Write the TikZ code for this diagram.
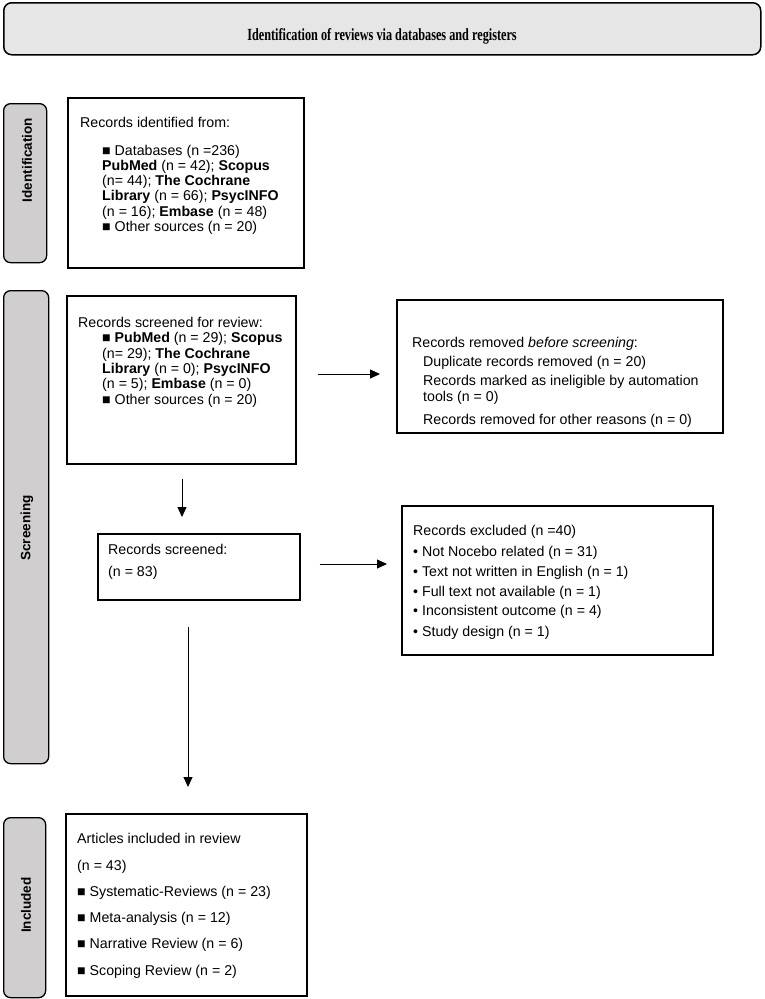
\documentclass[tikz,border=0pt]{standalone}
\usepackage{graphicx}
\usepackage{fontspec}
\setmainfont{Liberation Sans}
\newfontfamily\titlefont{Liberation Serif}
\usetikzlibrary{calc,arrows.meta}
\definecolor{topgray}{HTML}{E7E6E6}
\definecolor{sidegray}{HTML}{D0CECE}
\begin{document}
\begin{tikzpicture}[x=1pt,y=-1pt,
  frame/.style={draw, line width=1.6pt, inner sep=0pt, anchor=north west},
  side/.style={draw, line width=1.3pt, rounded corners=7pt, fill=sidegray, inner sep=0pt, anchor=north west},
  lab/.style={rotate=90, inner sep=0pt, font=\bfseries\fontsize{13.5}{16}\selectfont},
  txt/.style={anchor=base west, inner sep=0pt, align=left, font=\fontsize{14.2}{15.3}\selectfont},
  arr/.style={-{Triangle[length=10pt,width=9pt]}, line width=0.9pt}
]
\useasboundingbox (0,0) rectangle (764,999);

% title bar
\node[frame, rounded corners=8pt, fill=topgray, line width=1.5pt, minimum width=757pt, minimum height=52pt] (top) at (3,2) {};
\node[anchor=base, inner sep=0pt, font=\titlefont\bfseries\fontsize{17}{18}\selectfont] (title) at (382,40)
  {\scalebox{0.72}[1]{Identification of reviews via databases and registers}};

% side bars
\node[side, minimum width=43pt, minimum height=159pt] (sid) at (3,103) {};
\node[lab] (lid) at (27,160) {Identification};
\node[side, minimum width=45pt, minimum height=473pt] (sscr) at (3,290) {};
\node[lab] (lscr) at (27,528) {Screening};
\node[side, minimum width=42pt, minimum height=180pt] (sinc) at (3,817) {};
\node[lab] (linc) at (26,905) {Included};

% frames
\node[frame, minimum width=236pt, minimum height=170pt] (b1) at (67,97) {};
\node[frame, minimum width=229pt, minimum height=168pt] (b2) at (66,295) {};
\node[frame, minimum width=326pt, minimum height=133pt] (b3) at (396,299) {};
\node[frame, minimum width=202pt, minimum height=66pt] (b4) at (97,533) {};
\node[frame, minimum width=311pt, minimum height=149pt] (b5) at (401,505) {};
\node[frame, minimum width=241pt, minimum height=182pt] (b6) at (65,813) {};

% box 1 (multi-line nodes: base = baseline of last line)
\node[txt] (t1a) at (80,127) {Records identified from:};
\node[txt] (t1b) at (102,231.5) {■ Databases (n =236)\\
\textbf{PubMed} (n = 42); \textbf{Scopus}\\
(n= 44); \textbf{The Cochrane}\\
\textbf{Library} (n = 66); \textbf{PsycINFO}\\
(n = 16); \textbf{Embase} (n = 48)\\
■ Other sources (n = 20)};

% box 2
\node[txt] (t2a) at (78,327) {Records screened for review:};
\node[txt] (t2b) at (102,404) {■ \textbf{PubMed} (n = 29); \textbf{Scopus}\\
(n= 29); \textbf{The Cochrane}\\
\textbf{Library} (n = 0); \textbf{PsycINFO}\\
(n = 5); \textbf{Embase} (n = 0)\\
■ Other sources (n = 20)};

% box 3
\node[txt] (t3a) at (412,347) {Records removed \textit{before screening}:};
\node[txt] (t3b) at (423,366) {Duplicate records removed (n = 20)};
\node[txt] (t3c) at (423,401) {Records marked as ineligible by automation\\tools (n = 0)};
\node[txt] (t3d) at (423,424) {Records removed for other reasons (n = 0)};

% box 4
\node[txt] (t4a) at (108,554) {Records screened:};
\node[txt] (t4b) at (108,576) {(n = 83)};

% box 5
\node[txt] (t5a) at (413,535) {Records excluded (n =40)};
\node[txt] (t5b) at (413,556) {• Not Nocebo related (n = 31)};
\node[txt] (t5c) at (413,576) {• Text not written in English (n = 1)};
\node[txt] (t5d) at (413,596) {• Full text not available (n = 1)};
\node[txt] (t5e) at (413,615) {• Inconsistent outcome (n = 4)};
\node[txt] (t5f) at (413,636) {• Study design (n = 1)};

% box 6
\node[txt] (t6a) at (77,843) {Articles included in review};
\node[txt] (t6b) at (77,870) {(n = 43)};
\node[txt] (t6c) at (77,896) {■ Systematic-Reviews (n = 23)};
\node[txt] (t6d) at (77,922) {■ Meta-analysis (n = 12)};
\node[txt] (t6e) at (77,948) {■ Narrative Review (n = 6)};
\node[txt] (t6f) at (77,975) {■ Scoping Review (n = 2)};

% arrows
\draw[arr] ($(b2.north east)+(21,79)$) -- ($(b3.north west)+(-16,75)$);
\draw[arr] ($(b2.south west)+(116,14)$) -- ($(b4.north west)+(85,-16)$);
\draw[arr] ($(b4.north east)+(19,31)$) -- ($(b5.north west)+(-14,59)$);
\draw[arr] ($(b4.south west)+(91,26)$) -- ($(b6.north west)+(123,-26)$);
\end{tikzpicture}
\end{document}
